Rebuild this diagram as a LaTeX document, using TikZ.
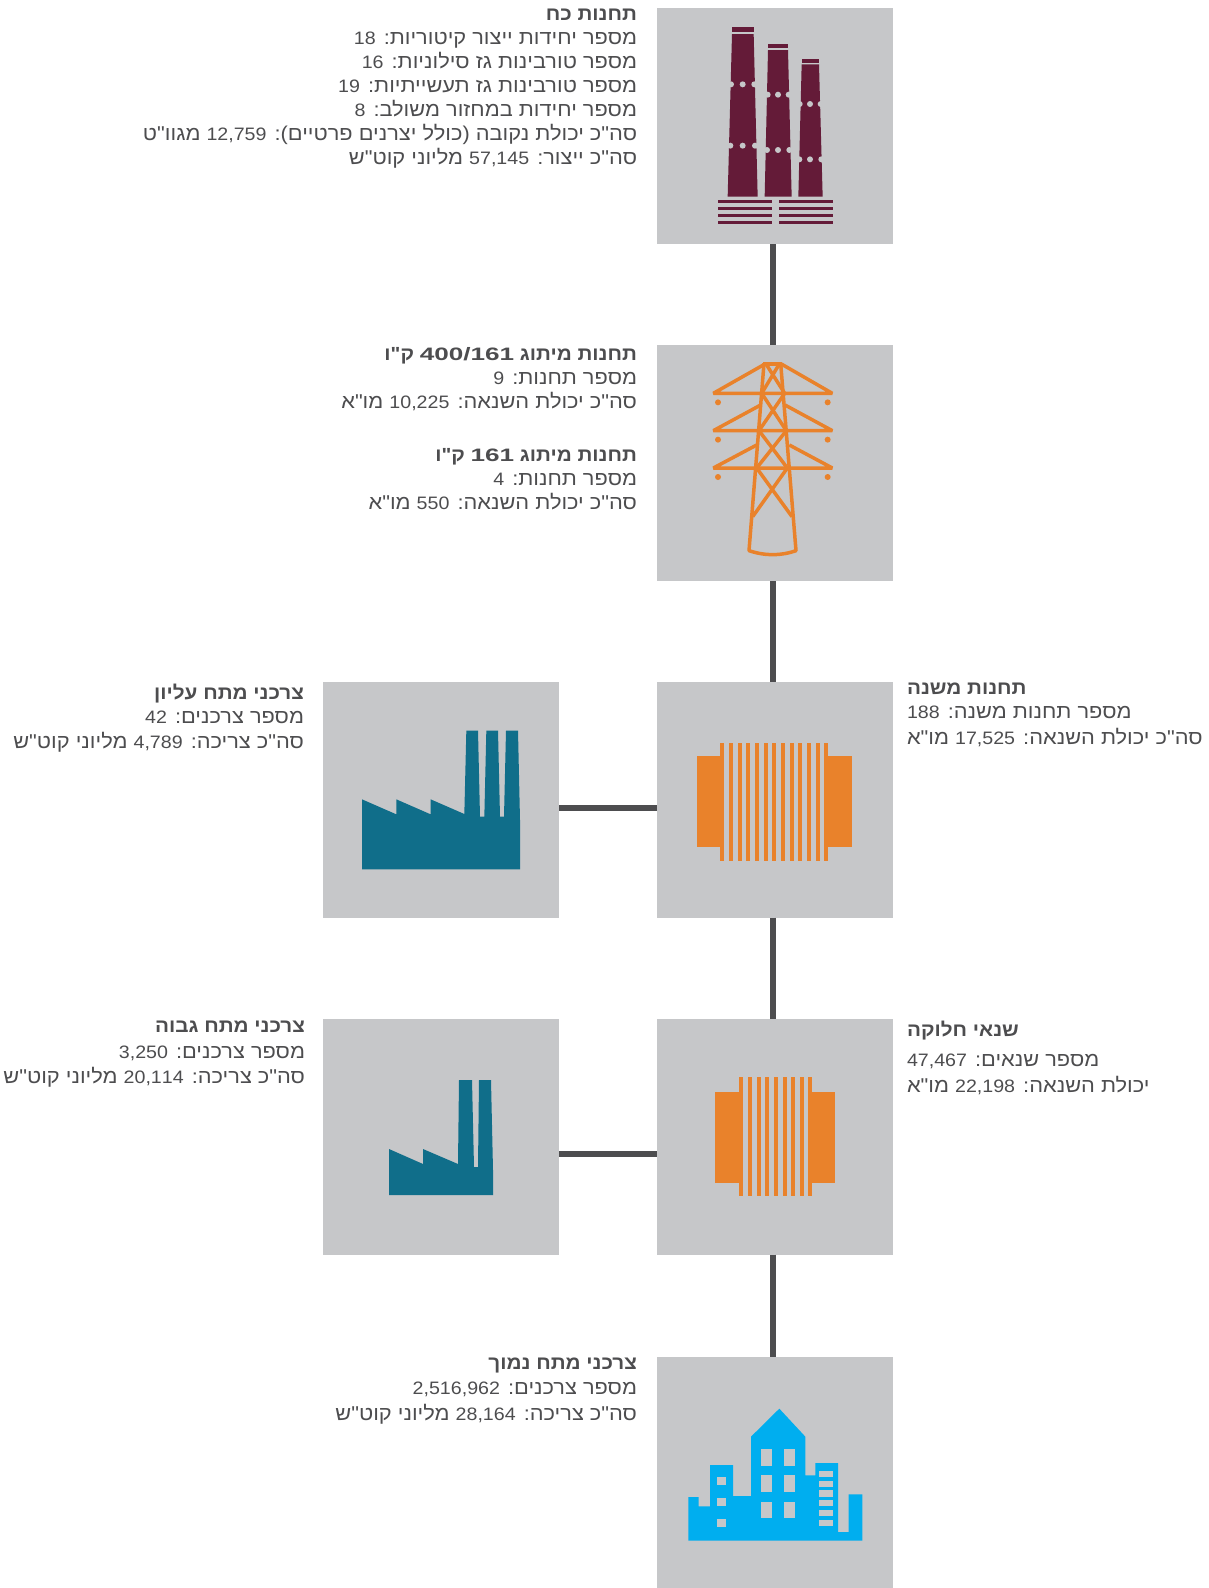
\documentclass[tikz,border=0pt]{standalone}
\usepackage{fontspec}
\TeXXeTstate=1
\newfontfamily\hebfont[Script=Hebrew,FakeStretch=1.09]{Liberation Sans}
\newfontfamily\hebwide[Script=Hebrew,FakeStretch=1.45]{Liberation Sans}
\newcommand\numL[1]{\beginL{\fontsize{18}{22}\selectfont #1}\endL{}}
\newcommand\numB[1]{\beginL{\fontsize{18}{22}\selectfont\hebwide\bfseries #1}\endL{}}
\newcommand\hebline[1]{\beginR #1\endR}
\definecolor{boxgrey}{HTML}{C6C7C9}
\definecolor{linegrey}{HTML}{4D4D4F}
\definecolor{txtgrey}{HTML}{4D4D4F}
\definecolor{plant}{HTML}{641B38}
\definecolor{orangeicon}{HTML}{E9822B}
\definecolor{teal}{HTML}{106E8A}
\definecolor{cityblue}{HTML}{00AEEF}
\tikzset{
  box/.style={fill=boxgrey,inner sep=0pt,outer sep=0pt,minimum width=236pt,minimum height=236pt},
  link/.style={draw=linegrey,line width=6pt},
  hebtxt/.style={inner sep=0pt,outer sep=0pt,text=txtgrey,font=\fontsize{20}{24}\selectfont\hebfont},
  rtext/.style={hebtxt,anchor=base east},
  ltext/.style={hebtxt,anchor=base west},
  headline/.style={font=\fontsize{19}{23}\selectfont\hebfont\bfseries},
  zoomed/.style={x=0.3333333pt,y=-0.3333333pt},
  tower/.style={draw=orangeicon,line width=3.5pt,line join=bevel}
}
\begin{document}
\begin{tikzpicture}[x=1pt,y=-1pt]
\useasboundingbox (0,0) rectangle (1209,1588);
% boxes
\node[box] (plantbox) at (775,126) {};
\node[box] (towerbox) at (775,463) {};
\node[box] (subbox) at (775,799.5) {};
\node[box] (distbox) at (775,1136.5) {};
\node[box,minimum height=231pt] (citybox) at (775,1472.5) {};
\node[box] (extrabox) at (441,799.5) {};
\node[box] (highbox) at (441,1136.5) {};
% connectors
\draw[link] ([xshift=-2pt]plantbox.south) -- ([xshift=-2pt]towerbox.north);
\draw[link] ([xshift=-2pt]towerbox.south) -- ([xshift=-2pt]subbox.north);
\draw[link] ([xshift=-2pt]subbox.south) -- ([xshift=-2pt]distbox.north);
\draw[link] ([xshift=-2pt]distbox.south) -- ([xshift=-2pt]citybox.north);
\draw[link] ([yshift=-8.5pt]extrabox.east) -- ([yshift=-8.5pt]subbox.west);
\draw[link] ([yshift=-17.5pt]highbox.east) -- ([yshift=-17.5pt]distbox.west);
% plant icon
\begin{scope}[shift={(650,0)},zoomed]
\fill[plant] (246,81) rectangle (311,96);
\fill[plant] (246,102) -- (311,102) -- (323,590) -- (233,590) -- cycle;
\fill[plant] (355,131) rectangle (414,144);
\fill[plant] (354,150) -- (414,150) -- (425,590) -- (344,590) -- cycle;
\fill[plant] (455,176) rectangle (508,188);
\fill[plant] (455,193) -- (507,193) -- (518,590) -- (445,590) -- cycle;
\foreach \px/\py in {243/253,278/253,313/253,241/437,278/437,315/437,353/284,384/284,416/284,351/450,384/450,418/450,449/312,480/312,512/312,448/478,480/478,514/478}
  \fill[boxgrey] (\px,\py) circle[radius=3pt];
\foreach \py in {601,622,642,663} {
  \fill[plant] (204,\py) rectangle (365,\py+9);
  \fill[plant] (387,\py) rectangle (548,\py+9);
}
\end{scope}
% tower icon
\begin{scope}[shift={(650,340)},zoomed]
\fill[orangeicon] (338,65) rectangle (397,78);
\draw[tower] (342,70) -- (297,632) .. controls (345,648) and (392,648) .. (438,632) -- (392,70);
\draw[tower] (345,72) -- (190,160) -- (547,160) -- (394,72);
\draw[tower] (332,195) -- (190,272) -- (547,272) -- (405,195);
\draw[tower] (320,315) -- (190,384) -- (547,384) -- (418,315);
\draw[tower] (348,72) -- (404,160) -- (327,272) -- (412,384) -- (308,530);
\draw[tower] (388,72) -- (335,160) -- (409,272) -- (320,384) -- (426,530);
\foreach \px in {204,533} \foreach \py in {187,299,411}
  \fill[orangeicon] (\px,\py) circle[radius=3pt];
\end{scope}
% transformer large
\begin{scope}[shift={(660,720)},zoomed]
\fill[orangeicon] (111,108) rectangle (192,381);
\fill[orangeicon] (492,108) rectangle (576,381);
\foreach \bx in {180,207,234,258,285,312,336,363,390,414,441,468,492}
  \fill[orangeicon] (\bx,69) rectangle (\bx+13,423);
\end{scope}
% transformer small
\fill[orangeicon] (715,1092) rectangle (743,1183);
\fill[orangeicon] (808,1092) rectangle (835,1183);
\foreach \bx in {739,748,757,765,774,783,791,800,808}
  \fill[orangeicon] (\bx,1077) rectangle (\bx+4.3,1196);
% factory large
\begin{scope}[shift={(320,710)},zoomed]
\fill[teal] (126,268) -- (229,313) -- (229,268) -- (332,313) -- (332,268) -- (433,312) -- (439,62) -- (474,62) -- (480,320) -- (493,320) -- (499,62) -- (534,62) -- (540,320) -- (552,320) -- (558,62) -- (594,62) -- (600,330) -- (600,478) -- (126,478) -- cycle;
\end{scope}
% factory small
\fill[teal] (389,1149) -- (423,1164) -- (423,1149) -- (458,1164) -- (459,1080) -- (472,1080) -- (474,1167) -- (478,1167) -- (479,1080) -- (491,1080) -- (493,1170) -- (493,1195) -- (389,1195) -- cycle;
% city icon
\begin{scope}[shift={(650,1350)},zoomed]
\fill[cityblue] (115,572) -- (115,441) -- (146,441) -- (146,469) -- (180,469) -- (180,345) -- (249,345) -- (249,438) -- (303,438) -- (303,260) -- (388,176) -- (466,260) -- (466,376) -- (496,376) -- (496,339) -- (564,339) -- (564,546) -- (596,546) -- (596,433) -- (637,433) -- (637,572) -- cycle;
\foreach \wx in {333,402} \foreach \wy/\wz in {298/347,376/425,455/504}
  \fill[boxgrey] (\wx,\wy) rectangle (\wx+34,\wz);
\foreach \wy in {381,444,508}
  \fill[boxgrey] (202,\wy) rectangle (227,\wy+24);
\foreach \wy in {362,392,421,450,480,510}
  \fill[boxgrey] (508,\wy) rectangle (548,\wy+19);
\end{scope}
% plant text
\node[rtext,headline] (pa) at (637,20) {\hebline{תחנות כח}};
\node[rtext] (pb) at (637,44) {\hebline{מספר יחידות ייצור קיטוריות: \numL{18}}};
\node[rtext] (pc) at (637,68) {\hebline{מספר טורבינות גז סילוניות: \numL{16}}};
\node[rtext] (pd) at (637,92) {\hebline{מספר טורבינות גז תעשייתיות: \numL{19}}};
\node[rtext] (pe) at (637,116) {\hebline{מספר יחידות במחזור משולב: \numL{8}}};
\node[rtext] (pf) at (637,140) {\hebline{סה"כ יכולת נקובה (כולל יצרנים פרטיים): \numL{12,759} מגוו"ט}};
\node[rtext] (pg) at (637,164) {\hebline{סה"כ ייצור: \numL{57,145} מליוני קוט"ש}};
% tower text
\node[rtext,headline] (ta) at (637,360) {\hebline{תחנות מיתוג \numB{400/161} ק"ו}};
\node[rtext] (tb) at (637,384) {\hebline{מספר תחנות: \numL{9}}};
\node[rtext] (tc) at (637,408) {\hebline{סה"כ יכולת השנאה: \numL{10,225} מו"א}};
\node[rtext,headline] (td) at (637,461) {\hebline{תחנות מיתוג \numB{161} ק"ו}};
\node[rtext] (te) at (637,485) {\hebline{מספר תחנות: \numL{4}}};
\node[rtext] (tf) at (637,509) {\hebline{סה"כ יכולת השנאה: \numL{550} מו"א}};
% extra high consumers
\node[rtext,headline] (xa) at (304,699) {\hebline{צרכני מתח עליון}};
\node[rtext] (xb) at (304,723) {\hebline{מספר צרכנים: \numL{42}}};
\node[rtext] (xc) at (304,748) {\hebline{סה"כ צריכה: \numL{4,789} מליוני קוט"ש}};
% high consumers
\node[rtext,headline] (ha) at (305,1032) {\hebline{צרכני מתח גבוה}};
\node[rtext] (hb) at (305,1058) {\hebline{מספר צרכנים: \numL{3,250}}};
\node[rtext] (hc) at (305,1083) {\hebline{סה"כ צריכה: \numL{20,114} מליוני קוט"ש}};
% substation text
\node[ltext,headline] (sa) at (907,694) {\hebline{תחנות משנה}};
\node[ltext] (sb) at (907,718) {\hebline{מספר תחנות משנה: \numL{188}}};
\node[ltext] (sc) at (907,744) {\hebline{סה"כ יכולת השנאה: \numL{17,525} מו"א}};
% distribution text
\node[ltext,headline] (da) at (907,1036) {\hebline{שנאי חלוקה}};
\node[ltext] (db) at (907,1066) {\hebline{מספר שנאים: \numL{47,467}}};
\node[ltext] (dc) at (907,1092) {\hebline{יכולת השנאה: \numL{22,198} מו"א}};
% low consumers
\node[rtext,headline] (la) at (637,1369) {\hebline{צרכני מתח נמוך}};
\node[rtext] (lb) at (637,1394) {\hebline{מספר צרכנים: \numL{2,516,962}}};
\node[rtext] (lc) at (637,1420) {\hebline{סה"כ צריכה: \numL{28,164} מליוני קוט"ש}};
\end{tikzpicture}
\end{document}
